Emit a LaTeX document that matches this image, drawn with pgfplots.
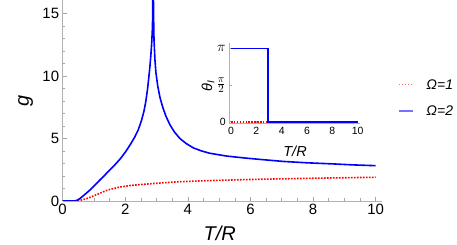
\documentclass[border=0pt]{standalone}
\usepackage{pgfplots}
\pgfplotsset{compat=1.18}
\usepackage{fontspec}
\setmainfont{Liberation Sans}
\definecolor{pblue}{rgb}{0,0,1}
\definecolor{pred}{rgb}{1,0,0}
\begin{document}
\begin{tikzpicture}
\useasboundingbox (0,0) rectangle (457bp,245bp);
\begin{axis}[
  name=main,
  at={(62.6bp,44bp)}, anchor=south west,
  scale only axis, width=319.3bp, height=201bp,
  xmin=0, xmax=10.2, ymin=0, ymax=16.1,
  axis lines*=left,
  axis line style={black!30, line width=0.6bp},
  xtick={0,2,...,10}, ytick={0,5,10,15},
  minor x tick num=3, minor y tick num=4,
  tick align=inside, major tick length=4bp, minor tick length=2.5bp,
  tick style={black!35, line width=0.5bp},
  tick label style={font=\fontsize{15}{15}\selectfont},
  /pgf/number format/assume math mode=true,
  xlabel={\itshape T/R}, ylabel={\itshape g},
  label style={font=\fontsize{20}{20}\selectfont},
  x label style={at={(axis description cs:0.492,-0.163)}, anchor=center},
  y label style={at={(axis description cs:-0.116,0.4975)}, anchor=center},
  legend style={draw=none, fill=none, inner sep=0pt,
    at={(axis description cs:1.0504,0.607)}, anchor=north west,
    font=\fontsize{14}{14}\selectfont\itshape,
    nodes={inner sep=0pt, text height=10bp, text depth=0pt},
    row sep=16.7bp, column sep=13bp},
  legend cell align=left,
  legend image code/.code={\draw[#1, opacity=0.55, line width=1.3bp] (0bp,0bp) -- (14bp,0bp);},
]
\addplot[pred, line width=1.6bp, dash pattern=on 1.6bp off 1.4bp] coordinates {
(0,0) (0.3,0) (0.4,0.0) (0.5,0.03) (0.6,0.08) (0.75,0.18) (0.875,0.29)
(1.0,0.42) (1.19,0.62) (1.35,0.79) (1.51,0.93) (1.8,1.1) (2.15,1.24)
(2.5,1.32) (2.79,1.38) (3.11,1.44) (3.7,1.54) (4.5,1.62) (5.5,1.69)
(6.3,1.74) (7.5,1.8) (8.65,1.85) (10,1.9)};
\addlegendentry{Ω=1}
\addplot[pblue, line width=1.6bp, line join=round] coordinates {
(0,0) (0.3,0) (0.4,0.01) (0.5,0.1) (0.56,0.21) (0.7,0.5) (0.875,0.88)
(1.0,1.2) (1.19,1.68) (1.35,2.08) (1.51,2.49) (1.67,2.9) (1.83,3.34) (2.0,3.9)
(2.15,4.47) (2.3,5.1) (2.42,5.72) (2.52,6.45) (2.6,7.2) (2.66,8.0) (2.71,8.9)
(2.75,9.8) (2.79,10.8) (2.82,11.7) (2.845,12.6) (2.865,13.6) (2.878,14.8) (2.89,20)
(2.905,15) (2.92,12.9) (2.95,11.3) (2.98,10.3) (3.04,9.2) (3.11,8.3) (3.2,7.5)
(3.3,6.8) (3.43,6.1) (3.58,5.5) (3.75,5.0) (3.95,4.6) (4.18,4.25) (4.45,4.0)
(4.71,3.82) (5.24,3.6) (5.8,3.45) (6.31,3.33) (7.05,3.17) (7.8,3.06) (8.65,2.97)
(9.3,2.89) (10,2.83)};
\addlegendentry{Ω=2}
\end{axis}
\begin{axis}[
  name=inset,
  at={(229.1bp,121.4bp)}, anchor=south west,
  scale only axis, width=131.1bp, height=80.4bp,
  xmin=-0.15, xmax=10.2, ymin=-0.08, ymax=3.36,
  axis lines*=left,
  axis line style={black!30, line width=0.6bp},
  xtick={0,2,...,10}, ytick={0,1.5708,3.14159},
  yticklabels={0,{\fontsize{15}{15}\selectfont$\frac{\pi}{2}$},{\fontsize{14}{14}\selectfont$\pi$}},
  minor x tick num=1,
  tick align=inside, major tick length=3bp, minor tick length=2bp,
  tick style={black!35, line width=0.5bp},
  tick label style={font=\fontsize{10.5}{10.5}\selectfont},
  /pgf/number format/assume math mode=true,
  xlabel={\itshape T/R}, ylabel={\itshape θ\textsubscript{I}},
  label style={font=\fontsize{14.5}{14.5}\selectfont},
  x label style={at={(axis description cs:0.503,-0.34)}, anchor=center},
  y label style={at={(axis description cs:-0.161,0.47)}, anchor=center},
]
\addplot[pred, line width=1.6bp, dash pattern=on 1.5bp off 1.4bp] coordinates {(0,0) (2.9,0)};
\addplot[pblue, line width=1.6bp] coordinates {(0,3.14159) (2.9,3.14159) (2.9,0) (10,0)};
\end{axis}
\end{tikzpicture}
\end{document}
